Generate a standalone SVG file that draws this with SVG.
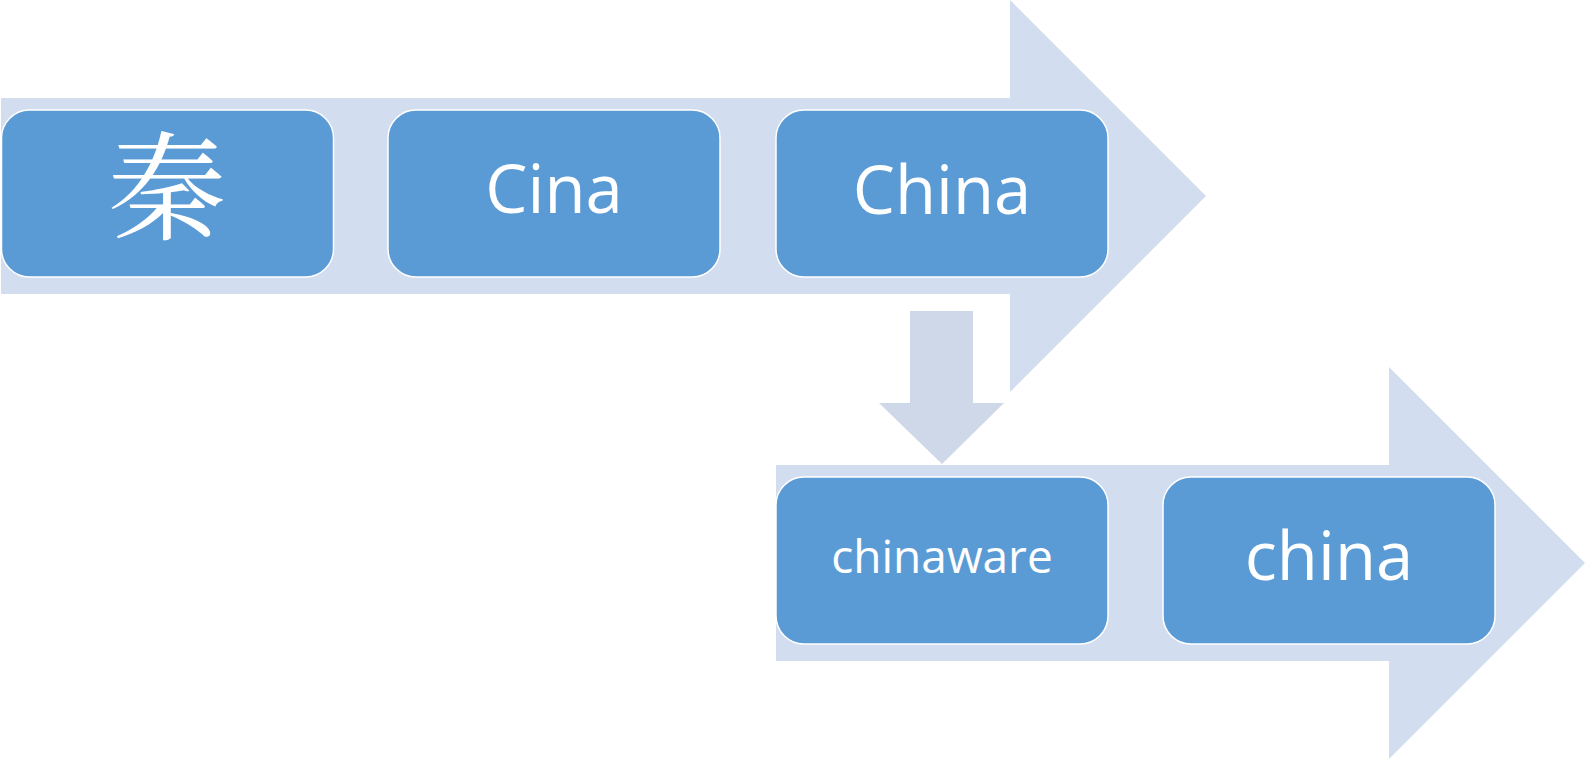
<svg xmlns="http://www.w3.org/2000/svg" width="1585" height="760" viewBox="0 0 1585 760">
<style>
.band{fill:#D2DEEF;}
.down{fill:#CFD8E8;}
.box{fill:#5B9BD5;stroke:#FFFFFF;stroke-width:1.5;}
.lbl{fill:#FFFFFF;font-family:"Open Sans","Noto Sans",sans-serif;text-anchor:middle;}
.cjk{fill:#FFFFFF;font-family:"Noto Serif CJK SC","Noto Sans CJK SC",serif;text-anchor:middle;}
</style>
<rect width="1585" height="760" fill="#FFFFFF"/>
<g id="connectors">
<polygon class="band" points="1,98 1010,98 1010,0 1206,196 1010,392 1010,294 1,294"/>
<polygon class="band" points="776,465 1389,465 1389,367 1585,563 1389,759 1389,661 776,661"/>
<polygon class="down" points="910,311 973,311 973,403 1004,403 942,464 879,403 910,403"/>
</g>
<g id="node-qin">
<rect class="box" x="1.5" y="110" width="332" height="167" rx="28" ry="28"/>
<text class="cjk" x="167" y="231" font-size="118">秦</text>
</g>
<g id="node-cina">
<rect class="box" x="388" y="110" width="332" height="167" rx="28" ry="28"/>
<text class="lbl" x="554" y="213" font-size="67">Cina</text>
</g>
<g id="node-china-cap">
<rect class="box" x="776" y="110" width="332" height="167" rx="28" ry="28"/>
<text class="lbl" x="942" y="214" font-size="67">China</text>
</g>
<g id="node-chinaware">
<rect class="box" x="776" y="477" width="332" height="167" rx="28" ry="28"/>
<text class="lbl" x="942" y="573" font-size="46">chinaware</text>
</g>
<g id="node-china">
<rect class="box" x="1163" y="477" width="332" height="167" rx="28" ry="28"/>
<text class="lbl" x="1329" y="580" font-size="67">china</text>
</g>
</svg>
